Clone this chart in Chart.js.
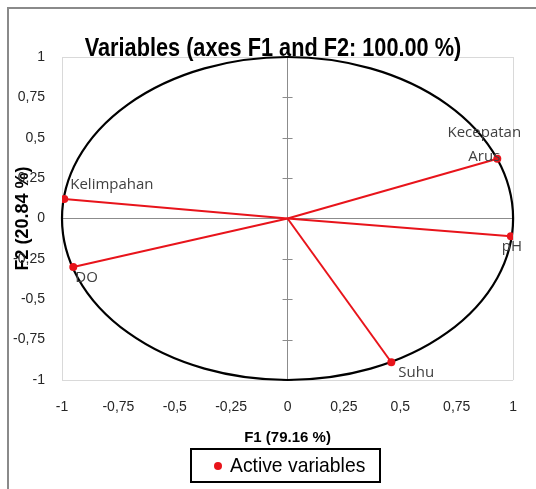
<!DOCTYPE html>
<html lang="en">
<head>
  <meta charset="UTF-8" />
  <title>Variables (axes F1 and F2)</title>
  <script src="https://cdn.jsdelivr.net/npm/chart.js"></script>
  <style>
    body { margin: 0; background: #fff; }
    canvas { display: block; }
  </style>
</head>
<body>
  <canvas id="grafikPCA" width="536" height="489"></canvas>

  <script>
    // data
    const varNames = ['Kelimpahan', 'Kecepatan Arus', 'pH', 'DO', 'Suhu'];
    const f1 = [-0.99, 0.93, 0.99, -0.95, 0.46];
    const f2 = [0.12, 0.37, -0.11, -0.30, -0.89];
    const axisTicks = [-1, -0.75, -0.5, -0.25, 0, 0.25, 0.5, 0.75, 1];

    const chartTitle = 'Variables (axes F1 and F2: 100.00 %)';
    const xTitle = 'F1 (79.16 %)';
    const yTitle = 'F2 (20.84 %)';
    const legendText = 'Active variables';

    const RED = '#e8141b';
    const SANS = '"Liberation Sans", Arial, sans-serif';
    const LABEL_FONT = '"Open Sans", "DejaVu Sans", sans-serif';

    // where each point label sits relative to its point (style only)
    const labelPlace = [
      { dx: 6, dy: -14, align: 'left' },
      { dx: -13, dy: -2, align: 'center' },
      { dx: 1, dy: 10, align: 'center' },
      { dx: 2, dy: 11, align: 'left' },
      { dx: 7, dy: 10, align: 'left' }
    ];

    const fmt = v => String(v).replace('.', ',');

    const datasets = varNames.map((name, i) => ({
      label: name,
      data: [{ x: 0, y: 0 }, { x: f1[i], y: f2[i] }],
      showLine: true,
      borderColor: RED,
      backgroundColor: RED,
      borderWidth: 2,
      pointRadius: [0, 4],
      pointBorderWidth: 0
    }));

    // narrow-looking text: draw a wider font squeezed horizontally
    function squeezedText(ctx, text, x, y, sx) {
      ctx.save();
      ctx.translate(x, y);
      ctx.scale(sx, 1);
      ctx.fillText(text, 0, 0);
      ctx.restore();
    }

    const decor = {
      id: 'decor',
      beforeDatasetsDraw(chart) {
        const { ctx, scales: { x, y } } = chart;
        const cx = x.getPixelForValue(0), cy = y.getPixelForValue(0);
        ctx.save();
        // tick marks across the vertical axis
        ctx.strokeStyle = '#8c8c8c';
        ctx.lineWidth = 1;
        axisTicks.forEach(t => {
          if (t === 0) return;
          const py = Math.round(y.getPixelForValue(t)) + 0.5;
          ctx.beginPath();
          ctx.moveTo(cx - 5, py);
          ctx.lineTo(cx + 5, py);
          ctx.stroke();
        });
        // correlation circle
        ctx.strokeStyle = '#000';
        ctx.lineWidth = 2.2;
        ctx.beginPath();
        ctx.ellipse(cx, cy, x.getPixelForValue(1) - cx, cy - y.getPixelForValue(1), 0, 0, Math.PI * 2);
        ctx.stroke();
        ctx.restore();
      },
      afterDraw(chart) {
        const { ctx, scales: { x, y } } = chart;
        ctx.save();
        // point labels
        ctx.fillStyle = '#404040';
        ctx.font = '15px ' + LABEL_FONT;
        ctx.textBaseline = 'middle';
        varNames.forEach((name, i) => {
          const p = labelPlace[i];
          const px = x.getPixelForValue(f1[i]) + p.dx;
          const py = y.getPixelForValue(f2[i]) + p.dy;
          ctx.textAlign = p.align;
          const words = name.split(' ');
          words.forEach((w, k) => ctx.fillText(w, px, py - (words.length - 1 - k) * 24));
        });

        // main title
        ctx.fillStyle = '#000';
        ctx.font = 'bold 26px ' + SANS;
        ctx.textAlign = 'center';
        ctx.textBaseline = 'alphabetic';
        squeezedText(ctx, chartTitle, 273, 56, 0.835);

        // legend box
        ctx.strokeStyle = '#000';
        ctx.lineWidth = 2;
        ctx.strokeRect(191, 449, 189, 33);
        ctx.fillStyle = RED;
        ctx.beginPath();
        ctx.arc(218, 466, 4, 0, Math.PI * 2);
        ctx.fill();
        ctx.fillStyle = '#000';
        ctx.font = '21px ' + SANS;
        ctx.textAlign = 'left';
        ctx.textBaseline = 'middle';
        squeezedText(ctx, legendText, 230, 466, 0.92);

        // outer frame
        ctx.strokeStyle = '#8a8a8a';
        ctx.lineWidth = 2;
        ctx.beginPath();
        ctx.moveTo(8, 489);
        ctx.lineTo(8, 8);
        ctx.lineTo(536, 8);
        ctx.stroke();
        ctx.restore();
      }
    };

    const gridColor = c => {
      const v = c.tick && c.tick.value;
      if (v === 0) return '#8c8c8c';
      if (v === 1 || v === -1) return '#d9d9d9';
      return 'rgba(0,0,0,0)';
    };

    new Chart(document.getElementById('grafikPCA').getContext('2d'), {
      type: 'scatter',
      data: { datasets },
      options: {
        responsive: false,
        animation: false,
        layout: { padding: { left: 10, right: 22, top: 57, bottom: 42 } },
        plugins: {
          legend: { display: false },
          tooltip: { enabled: false }
        },
        scales: {
          x: {
            type: 'linear',
            min: -1,
            max: 1,
            afterBuildTicks: s => { s.ticks = axisTicks.map(v => ({ value: v })); },
            afterFit: s => { s.height = 67; },
            border: { display: false },
            grid: { color: gridColor, drawTicks: false, lineWidth: 1 },
            ticks: {
              color: '#262626',
              padding: 19,
              maxRotation: 0,
              font: { family: SANS, size: 14 },
              callback: v => fmt(v)
            },
            title: {
              display: true,
              text: xTitle,
              color: '#000',
              padding: { top: 0, bottom: 0 },
              font: { family: SANS, size: 15, weight: 'bold' }
            }
          },
          y: {
            type: 'linear',
            min: -1,
            max: 1,
            afterBuildTicks: s => { s.ticks = axisTicks.map(v => ({ value: v })); },
            afterFit: s => { s.width = 52; },
            border: { display: false },
            grid: { color: gridColor, drawTicks: false, lineWidth: 1 },
            ticks: {
              color: '#262626',
              padding: 17,
              font: { family: SANS, size: 14 },
              callback: v => fmt(v)
            },
            title: {
              display: true,
              text: yTitle,
              color: '#000',
              padding: { top: 2, bottom: 0 },
              font: { family: SANS, size: 18, weight: 'bold' }
            }
          }
        }
      },
      plugins: [decor]
    });
  </script>
</body>
</html>
